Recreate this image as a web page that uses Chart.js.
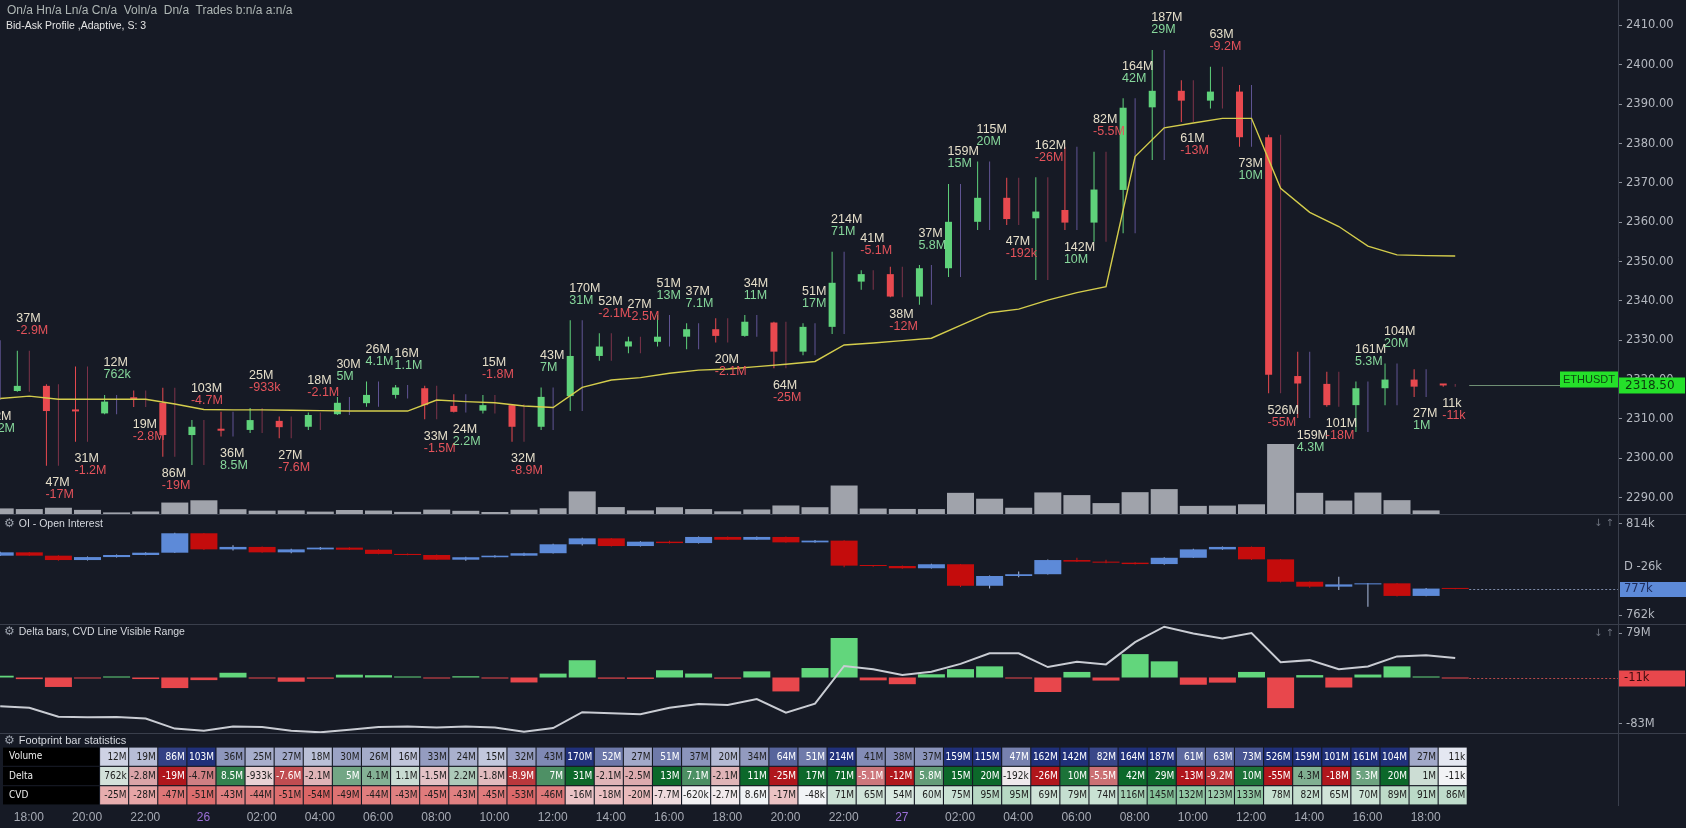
<!DOCTYPE html>
<html>
<head>
<meta charset="utf-8">
<title>ETHUSDT footprint</title>
<script src="https://cdn.jsdelivr.net/npm/chart.js@4.4.1/dist/chart.umd.min.js"></script>
<style>
  html, body { margin: 0; padding: 0; background: #161a25; }
  body { width: 1686px; height: 828px; position: relative; overflow: hidden;
         font-family: "Liberation Sans", Arial, sans-serif; }
  canvas { position: absolute; left: 0; }
  .txt { position: absolute; font-size: 11px; line-height: 13px; white-space: pre; color: #d5d8de; }
  .gear { color: #9aa0ab; font-family: "DejaVu Sans", sans-serif; font-size: 12px; margin-right: 4px; }
  .arr { position: absolute; left: 1594px; font-size: 10px; color: #6c717d; font-family: "DejaVu Sans", sans-serif; }
  .sep { position: absolute; left: 0; width: 1686px; height: 1px; background: #3a3f4c; }
</style>
</head>
<body>
<canvas id="mainChart" width="1686" height="514" style="top:0"></canvas>
<div class="sep" style="top:514px"></div>
<canvas id="oiChart" width="1686" height="109" style="top:515px"></canvas>
<div class="sep" style="top:624px"></div>
<canvas id="deltaChart" width="1686" height="108" style="top:625px"></canvas>
<div class="sep" style="top:733px"></div>
<canvas id="statsChart" width="1686" height="94" style="top:734px"></canvas>

<div class="txt" style="left:7px;top:4px;font-size:12px;color:#aeb6b4">On/a Hn/a Ln/a Cn/a  Voln/a  Dn/a  Trades b:n/a a:n/a</div>
<div class="txt" style="left:6px;top:19px;color:#e4e4e4;font-size:10.5px">Bid-Ask Profile ,Adaptive, S: 3</div>
<div class="txt" style="left:4px;top:517px;font-size:10.5px"><span class="gear">⚙</span>OI - Open Interest</div>
<div class="txt" style="left:4px;top:625px;font-size:10.5px"><span class="gear">⚙</span>Delta bars, CVD Line Visible Range</div>
<div class="txt" style="left:4px;top:734px"><span class="gear">⚙</span>Footprint bar statistics</div>
<div class="arr" style="top:517px">↓ ↑</div>
<div class="arr" style="top:627px">↓ ↑</div>

<script>
// ---- data (one entry per hourly bar, hours counted from 18:00 on the 25th) ----
const barHours = [-1, 0, 1, 2, 3, 4, 5, 6, 7, 8, 9, 10, 11, 12, 13, 14, 15, 16, 17, 18, 19,
  20, 21, 22, 23, 24, 25, 26, 27, 28, 29, 30, 31, 32, 33, 34, 35, 36, 37, 38, 39,
  40, 41, 42, 43, 44, 45, 46, 47, 48, 49];

const opens = [2322.0, 2317.1, 2318.4, 2312.3, 2311.4, 2315.3, 2314.1, 2305.9, 2307.5, 2307.2, 2309.5,
  2308.0, 2311.2, 2314.0, 2316.1, 2317.8, 2313.3, 2312.1, 2313.5, 2308.0, 2315.8,
  2326.0, 2328.4, 2329.6, 2330.9, 2332.8, 2331.1, 2334.5, 2327.1, 2333.4, 2344.9,
  2346.8, 2341.1, 2348.3, 2360.1, 2366.2, 2361.0, 2363.1, 2359.9, 2368.2, 2389.2,
  2393.4, 2390.9, 2393.2, 2381.6, 2320.9, 2318.9, 2313.5, 2317.8, 2320.0, 2318.6];
const highs = [2330.0, 2327.3, 2318.8, 2323.3, 2316.1, 2317.2, 2317.9, 2309.7, 2311.8, 2312.8, 2310.6,
  2311.6, 2315.6, 2319.5, 2318.6, 2318.4, 2316.3, 2316.1, 2313.7, 2318.0, 2335.1,
  2331.8, 2330.9, 2336.4, 2334.3, 2335.6, 2336.4, 2334.7, 2334.3, 2352.5, 2347.8,
  2348.7, 2349.1, 2369.7, 2375.4, 2371.3, 2371.4, 2379.2, 2377.9, 2391.5, 2403.8,
  2396.1, 2399.5, 2394.9, 2382.2, 2327.1, 2322.0, 2319.5, 2324.1, 2322.6, 2318.9];
const lows = [2314.8, 2316.9, 2298.1, 2304.2, 2311.2, 2313.0, 2300.4, 2298.3, 2305.5, 2306.4, 2305.1,
  2307.2, 2311.0, 2313.1, 2315.2, 2309.9, 2311.6, 2311.4, 2304.2, 2307.2, 2312.0,
  2324.8, 2326.7, 2328.4, 2327.7, 2329.4, 2330.9, 2322.9, 2326.2, 2331.6, 2342.8,
  2340.9, 2339.0, 2346.1, 2358.0, 2359.3, 2345.3, 2358.0, 2355.0, 2357.2, 2375.8,
  2385.5, 2388.9, 2379.2, 2316.5, 2310.2, 2313.1, 2306.7, 2313.5, 2315.6, 2318.2];
const closes = [2317.5, 2318.4, 2312.0, 2311.9, 2314.4, 2315.0, 2305.9, 2308.0, 2307.0, 2309.7, 2307.9,
  2311.0, 2314.1, 2316.1, 2318.0, 2313.5, 2311.8, 2313.5, 2308.0, 2315.6, 2326.0,
  2328.4, 2329.7, 2330.9, 2332.8, 2331.1, 2334.7, 2327.1, 2333.4, 2344.6, 2346.8,
  2341.1, 2348.3, 2360.1, 2366.2, 2360.8, 2362.7, 2359.9, 2368.3, 2389.1, 2393.4,
  2390.9, 2393.2, 2381.6, 2321.2, 2319.0, 2313.5, 2317.8, 2320.0, 2318.2, 2318.5];
const vwap = [2315.2, 2315.8, 2315.0, 2315.0, 2315.0, 2315.0, 2313.8, 2312.4, 2312.3, 2312.3, 2312.2,
  2312.1, 2312.0, 2312.0, 2312.0, 2314.8, 2314.4, 2314.1, 2313.3, 2312.9, 2318.0,
  2319.9, 2320.5, 2321.6, 2322.4, 2322.7, 2323.3, 2323.9, 2324.6, 2328.8, 2329.3,
  2329.9, 2330.5, 2333.8, 2337.0, 2337.9, 2340.2, 2342.1, 2343.6, 2376.7, 2384.0,
  2385.2, 2386.4, 2386.4, 2368.6, 2362.5, 2358.9, 2353.9, 2351.7, 2351.5, 2351.4];

// volume, delta and cumulative delta, in millions
const volumes = [42, 37, 47, 31, 12, 19, 86, 103, 36, 25, 27,
  18, 30, 26, 16, 33, 24, 15, 32, 43, 170,
  52, 27, 51, 37, 20, 34, 64, 51, 214, 41,
  38, 37, 159, 115, 47, 162, 142, 82, 164, 187,
  61, 63, 73, 526, 159, 101, 161, 104, 27, 0.011];
const deltas = [3.2, -2.9, -17, -1.2, 0.762, -2.8, -19, -4.7, 8.5, -0.933, -7.6,
  -2.1, 5, 4.1, 1.1, -1.5, 2.2, -1.8, -8.9, 7, 31,
  -2.1, -2.5, 13, 7.1, -2.1, 11, -25, 17, 71, -5.1,
  -12, 5.8, 15, 20, -0.192, -26, 10, -5.5, 42, 29,
  -13, -9.2, 10, -55, 4.3, -18, 5.3, 20, 1, -0.011];
const cvd = [-4.7, -7.6, -24.6, -25.8, -25, -28, -47, -51, -43, -44, -51,
  -54, -49, -44, -43, -45, -43, -45, -53, -46, -16,
  -18, -20, -7.7, -0.62, -2.7, 8.6, -17, -0.048, 71, 65,
  54, 60, 75, 95, 95, 69, 79, 74, 116, 145,
  132, 123, 133, 78, 82, 65, 70, 89, 91, 86];

// open interest, in thousands
const oiFirstOpen = 795.9;
const oiClose = [797.8, 795.9, 793.4, 795.1, 796.3, 797.6, 808.7, 799.5, 800.9, 797.8, 799.5,
  800.5, 799.3, 796.9, 796.3, 793.6, 795.0, 795.9, 797.3, 802.4, 805.8,
  801.4, 803.9, 803.1, 806.6, 805.0, 806.6, 803.5, 804.5, 790.2, 790.0,
  788.7, 791.0, 778.7, 784.3, 785.3, 793.4, 792.5, 791.9, 791.1, 794.7,
  799.5, 800.9, 793.8, 781.0, 778.2, 779.5, 780.1, 772.9, 777.1, 776.9];
const oiHigh = [798.1, 798.0, 796.1, 795.4, 796.6, 797.9, 809.0, 808.9, 801.8, 801.1, 799.8,
  800.8, 800.7, 799.5, 797.1, 796.5, 795.3, 796.2, 797.6, 802.7, 806.1,
  806.0, 804.2, 804.4, 806.9, 806.8, 806.9, 806.8, 804.8, 804.7, 790.5,
  790.3, 791.3, 791.2, 784.6, 786.9, 793.7, 794.7, 793.6, 792.2, 795.0,
  799.8, 801.2, 801.1, 794.0, 781.2, 783.9, 780.3, 780.3, 777.4, 777.3];
const oiLow = [795.7, 795.7, 793.0, 793.2, 794.9, 796.1, 797.4, 799.2, 798.9, 797.6, 797.3,
  799.3, 799.1, 796.7, 796.1, 793.4, 793.0, 794.8, 795.7, 797.1, 801.7,
  801.2, 801.2, 802.9, 802.9, 804.8, 804.8, 803.3, 803.3, 789.3, 789.6,
  788.4, 788.5, 778.0, 777.2, 783.6, 785.1, 792.3, 791.5, 790.9, 790.7,
  794.5, 799.3, 793.4, 780.6, 777.6, 776.3, 766.7, 772.6, 772.7, 776.7];
const oiDayChange = -26;

const symbol = 'ETHUSDT';
const priceTicks = [2290, 2300, 2310, 2320, 2330, 2340, 2350, 2360, 2370, 2380, 2390, 2400, 2410];
const oiTicks = [814, 762];
const deltaTicks = [79, -83];
const timeTicks = [0, 2, 4, 6, 8, 10, 12, 14, 16, 18, 20, 22, 24, 26, 28, 30, 32, 34, 36, 38, 40, 42, 44, 46, 48];
const timeLabels = ['18:00', '20:00', '22:00', '26', '02:00', '04:00', '06:00', '08:00', '10:00', '12:00',
  '14:00', '16:00', '18:00', '20:00', '22:00', '27', '02:00', '04:00', '06:00', '08:00',
  '10:00', '12:00', '14:00', '16:00', '18:00'];
const rowNames = ['Volume', 'Delta', 'CVD'];
const STATS_FROM = 4;   // statistics table starts at the 21:00 bar

// ---- layout ----
const X_MIN = -0.921, X_MAX = 54.68;
const CANDLE_SHIFT = -0.326, MID_SHIFT = 0.086;
const AXIS_W = 68;
const GREEN = '#5fd27b', RED = '#e8494f';
const OI_UP = '#5d8ad8', OI_DOWN = '#c40c0c';
const AXIS_FONT = { family: '"DejaVu Sans", sans-serif', size: 11.5 };
const CELL_FONT = '10px "DejaVu Sans Condensed", "Liberation Sans Narrow", "Liberation Sans", sans-serif';

function fmtVal(v) {
  const a = Math.abs(v);
  if (a >= 10) return Math.round(v) + 'M';
  if (a >= 1) return (Math.round(v * 10) / 10) + 'M';
  return Math.round(v * 1000) + 'k';
}

function mixRgb(a, b, t) {
  return 'rgb(' + a.map((v, i) => Math.round(v + (b[i] - v) * t)).join(',') + ')';
}

function cellStyle(row, v) {
  let t, to;
  if (row === 0) {
    t = Math.pow(Math.min(Math.max(v - 8, 0) / 90, 1), 0.7);
    return [mixRgb([228, 231, 241], [32, 48, 122], t), t];
  }
  if (row === 1) {
    t = Math.pow(Math.min(Math.abs(v) / 11, 1), 0.75);
    to = v >= 0 ? [12, 104, 42] : [176, 22, 28];
  } else if (v < 0) {
    t = Math.pow(Math.min(-v / 60, 1), 0.9) * 0.85;
    to = [214, 60, 60];
  } else {
    t = Math.pow(Math.min(v / 200, 1), 1.5);
    to = [62, 160, 92];
  }
  return [mixRgb([242, 244, 246], to, t), t];
}

const oiOpen = oiClose.map((c, i) => (i ? oiClose[i - 1] : oiFirstOpen));
const candleColor = c => (closes[c.dataIndex] >= opens[c.dataIndex] ? GREEN : RED);
const oiColor = c => (oiClose[c.dataIndex] >= oiOpen[c.dataIndex] ? OI_UP : OI_DOWN);

function barSet(data, color, thickness, extra) {
  return Object.assign({
    type: 'bar', data, backgroundColor: color, barThickness: thickness,
    stack: 'g', borderWidth: 0, inflateAmount: 0
  }, extra);
}

function baseOptions(scales) {
  return {
    responsive: false, animation: false, devicePixelRatio: 1, events: [],
    layout: { padding: 0, autoPadding: false },
    plugins: { legend: { display: false }, tooltip: { enabled: false } },
    scales
  };
}

// keep tick labels from shrinking the plot area
function noPad(s) {
  s.paddingTop = 0; s.paddingBottom = 0; s.paddingLeft = 0; s.paddingRight = 0;
}

const xHidden = { type: 'linear', min: X_MIN, max: X_MAX, offset: false, display: false };

function rightAxis(min, max, tickValues, label) {
  return {
    type: 'linear', position: 'right', min, max, stacked: false,
    afterFit: s => { s.width = AXIS_W; noPad(s); },
    afterBuildTicks: s => { s.ticks = tickValues.map(v => ({ value: v })); },
    ticks: { color: '#b4b8c0', font: AXIS_FONT, padding: 4, autoSkip: false, callback: label },
    grid: { drawOnChartArea: false, drawTicks: true, tickLength: 4, color: '#8a8f99' },
    border: { display: true, color: '#3a3f4c' }
  };
}

// ---- plugins ----
const mainLabels = {
  id: 'mainLabels',
  afterDatasetsDraw(chart) {
    const { ctx, scales: { x, y } } = chart;
    ctx.save();
    ctx.font = '12.5px "Liberation Sans", Arial, sans-serif';
    ctx.textAlign = 'left';
    ctx.textBaseline = 'middle';
    barHours.forEach((h, i) => {
      const px = x.getPixelForValue(h + CANDLE_SHIFT) - 1;
      let yv, yd;
      if (closes[i] >= opens[i]) {
        const yh = y.getPixelForValue(highs[i]);
        yv = yh - 32; yd = yh - 20;
      } else {
        const yl = y.getPixelForValue(lows[i]);
        yv = yl + 17; yd = yl + 29;
      }
      ctx.fillStyle = '#e6dfca';
      ctx.fillText(fmtVal(volumes[i]), px, yv);
      ctx.fillStyle = deltas[i] >= 0 ? '#86d79b' : '#e4535b';
      ctx.fillText(fmtVal(deltas[i]), px, yd);
    });
    ctx.restore();
  },
  afterDraw(chart) {
    const { ctx, chartArea, scales: { x, y } } = chart;
    const last = closes.length - 1;
    const py = Math.round(y.getPixelForValue(closes[last])) + 0.5;
    ctx.save();
    ctx.strokeStyle = '#6f8f74';
    ctx.lineWidth = 1;
    ctx.beginPath();
    ctx.moveTo(x.getPixelForValue(barHours[last] + MID_SHIFT) + 14, py);
    ctx.lineTo(chartArea.right - 58, py);
    ctx.stroke();
    ctx.fillStyle = '#25e02a';
    ctx.fillRect(chartArea.right - 58, py - 14, 58, 16);
    ctx.fillRect(chartArea.right + 1, py - 8, AXIS_W - 2, 16);
    ctx.font = '11px "Liberation Sans", Arial, sans-serif';
    ctx.textBaseline = 'middle';
    ctx.textAlign = 'center';
    ctx.fillStyle = '#0c4a10';
    ctx.fillText(symbol, chartArea.right - 29, py - 6);
    ctx.textAlign = 'left';
    ctx.font = '12px "DejaVu Sans", sans-serif';
    ctx.fillStyle = '#0b3a0e';
    ctx.fillText(closes[last].toFixed(2), chartArea.right + 7, py);
    ctx.restore();
  }
};

const oiMarker = {
  id: 'oiMarker',
  afterDraw(chart) {
    const { ctx, chartArea, scales: { x, y } } = chart;
    const last = oiClose.length - 1;
    const py = Math.round(y.getPixelForValue(oiClose[last])) + 0.5;
    ctx.save();
    ctx.strokeStyle = '#7d8aa8';
    ctx.setLineDash([2, 2]);
    ctx.beginPath();
    ctx.moveTo(x.getPixelForValue(barHours[last] + MID_SHIFT) + 14, py);
    ctx.lineTo(chartArea.right, py);
    ctx.stroke();
    ctx.setLineDash([]);
    ctx.fillStyle = OI_UP;
    ctx.fillRect(chartArea.right + 2, py - 7.5, AXIS_W - 2, 15);
    ctx.font = '11.5px "DejaVu Sans", sans-serif';
    ctx.textBaseline = 'middle';
    ctx.fillStyle = '#1c2b5a';
    ctx.fillText(Math.round(oiClose[last]) + 'k', chartArea.right + 6, py);
    ctx.fillStyle = '#b4b8c0';
    ctx.fillText('D ' + oiDayChange + 'k', chartArea.right + 6, 52);
    ctx.restore();
  }
};

const deltaMarker = {
  id: 'deltaMarker',
  afterDraw(chart) {
    const { ctx, chartArea, scales: { x, y } } = chart;
    const last = deltas.length - 1;
    const py = Math.round(y.getPixelForValue(deltas[last])) + 0.5;
    ctx.save();
    ctx.strokeStyle = '#b84a4a';
    ctx.setLineDash([2, 2]);
    ctx.beginPath();
    ctx.moveTo(x.getPixelForValue(barHours[last] + MID_SHIFT) + 14, py);
    ctx.lineTo(chartArea.right, py);
    ctx.stroke();
    ctx.setLineDash([]);
    ctx.fillStyle = '#e8474c';
    ctx.fillRect(chartArea.right + 1, py - 8, AXIS_W - 2, 16);
    ctx.font = '11.5px "DejaVu Sans", sans-serif';
    ctx.textBaseline = 'middle';
    ctx.fillStyle = '#3a0c0e';
    ctx.fillText(fmtVal(deltas[last]), chartArea.right + 6, py);
    ctx.restore();
  }
};

const rowSeries = [volumes, deltas, cvd];
const statsCells = {
  id: 'statsCells',
  beforeDatasetsDraw(chart) {
    const { ctx, scales: { y } } = chart;
    ctx.save();
    ctx.font = CELL_FONT;
    ctx.textBaseline = 'middle';
    rowNames.forEach((name, r) => {
      const top = y.getPixelForValue(r + 0.03), bot = y.getPixelForValue(r + 0.97);
      ctx.fillStyle = '#000';
      ctx.fillRect(3, top, 96, bot - top);
      ctx.fillStyle = '#eeeeee';
      ctx.fillText(name, 9, (top + bot) / 2);
    });
    ctx.restore();
  },
  afterDatasetsDraw(chart) {
    const { ctx, scales: { x, y } } = chart;
    ctx.save();
    ctx.font = CELL_FONT;
    ctx.textAlign = 'right';
    ctx.textBaseline = 'middle';
    rowSeries.forEach((series, r) => {
      for (let i = STATS_FROM; i < series.length; i++) {
        const t = cellStyle(r, series[i])[1];
        ctx.fillStyle = r < 2 && t > 0.55 ? '#ffffff' : '#1d1d1d';
        ctx.fillText(fmtVal(series[i]), x.getPixelForValue(barHours[i]) + 12.5, y.getPixelForValue(r + 0.5) + 0.5);
      }
    });
    ctx.restore();
  }
};

// ---- main price pane ----
new Chart(document.getElementById('mainChart'), {
  type: 'bar',
  data: {
    datasets: [
      {
        type: 'line', yAxisID: 'y', order: 0,
        data: barHours.map((h, i) => ({ x: h + MID_SHIFT, y: vwap[i] })),
        borderColor: '#d4cd4c', borderWidth: 1.4, pointRadius: 0, tension: 0
      },
      barSet(barHours.map((h, i) => ({ x: h + CANDLE_SHIFT, y: [opens[i], closes[i]] })), candleColor, 7,
        { yAxisID: 'y', order: 1, minBarLength: 2 }),
      barSet(barHours.map((h, i) => ({ x: h + CANDLE_SHIFT, y: [lows[i], highs[i]] })), candleColor, 1,
        { yAxisID: 'y', order: 2 }),
      barSet(barHours.map((h, i) => ({ x: h + MID_SHIFT, y: [lows[i], highs[i]] })),
        c => (deltas[c.dataIndex] >= 0 ? 'rgba(128,110,196,0.7)' : 'rgba(170,62,90,0.7)'), 1,
        { yAxisID: 'y', order: 3 }),
      barSet(barHours.map((h, i) => ({ x: h + MID_SHIFT, y: volumes[i] })), '#a0a3ab', 27,
        { yAxisID: 'yv', order: 4 })
    ]
  },
  options: baseOptions({
    x: xHidden,
    y: rightAxis(2285.83, 2416.48, priceTicks, v => v.toFixed(2)),
    yv: { type: 'linear', display: false, min: 0, max: 3862, stacked: false }
  }),
  plugins: [mainLabels]
});

// ---- open interest pane ----
new Chart(document.getElementById('oiChart'), {
  type: 'bar',
  data: {
    datasets: [
      barSet(barHours.map((h, i) => ({ x: h + MID_SHIFT, y: [oiOpen[i], oiClose[i]] })), oiColor, 27,
        { order: 0, minBarLength: 1 }),
      barSet(barHours.map((h, i) => ({ x: h + MID_SHIFT, y: [oiLow[i], oiHigh[i]] })),
        c => (oiClose[c.dataIndex] >= oiOpen[c.dataIndex] ? '#aebfe3' : '#c41414'), 1, { order: 1 })
    ]
  },
  options: baseOptions({
    x: xHidden,
    y: rightAxis(756.86, 819.14, oiTicks, v => v + 'k')
  }),
  plugins: [oiMarker]
});

// ---- delta bars + CVD line pane ----
new Chart(document.getElementById('deltaChart'), {
  type: 'bar',
  data: {
    datasets: [
      {
        type: 'line', yAxisID: 'yc', order: 0,
        data: barHours.map((h, i) => ({ x: h + MID_SHIFT, y: cvd[i] })),
        borderColor: '#c9ccd3', borderWidth: 2, pointRadius: 0, tension: 0
      },
      barSet(barHours.map((h, i) => ({ x: h + MID_SHIFT, y: deltas[i] })),
        c => (deltas[c.dataIndex] >= 0 ? '#62d67c' : '#e8474c'), 27,
        { yAxisID: 'y', order: 1, minBarLength: 1 })
    ]
  },
  options: baseOptions({
    x: xHidden,
    y: rightAxis(-99.64, 94.25, deltaTicks, v => v + 'M'),
    yc: { type: 'linear', display: false, min: -55.3, max: 148.2, stacked: false }
  }),
  plugins: [deltaMarker]
});

// ---- footprint statistics table + time axis ----
new Chart(document.getElementById('statsChart'), {
  type: 'bar',
  data: {
    datasets: rowSeries.map((series, r) => barSet(
      barHours.slice(STATS_FROM).map(h => ({ x: h, y: [r + 0.03, r + 0.97] })),
      c => cellStyle(r, series[STATS_FROM + c.dataIndex])[0], 28, { yAxisID: 'y' }))
  },
  options: baseOptions({
    x: {
      type: 'linear', min: X_MIN, max: X_MAX, offset: false, position: 'bottom',
      afterFit: s => { s.height = 23; noPad(s); },
      afterBuildTicks: s => { s.ticks = timeTicks.map(v => ({ value: v + 0.07 })); },
      ticks: {
        autoSkip: false, maxRotation: 0, padding: 5,
        font: { family: '"Liberation Sans", Arial, sans-serif', size: 12 },
        color: c => (timeLabels[c.index] && timeLabels[c.index].length <= 2 ? '#9b6fd6' : '#a6aab4'),
        callback: (v, i) => timeLabels[i]
      },
      grid: { display: false, drawTicks: false },
      border: { display: false }
    },
    y: {
      type: 'linear', position: 'right', min: -0.6725, max: 3, reverse: true, stacked: false,
      afterFit: s => { s.width = AXIS_W; noPad(s); },
      ticks: { display: false },
      grid: { display: false, drawTicks: false },
      border: { display: true, color: '#3a3f4c' }
    }
  }),
  plugins: [statsCells]
});
</script>
</body>
</html>
